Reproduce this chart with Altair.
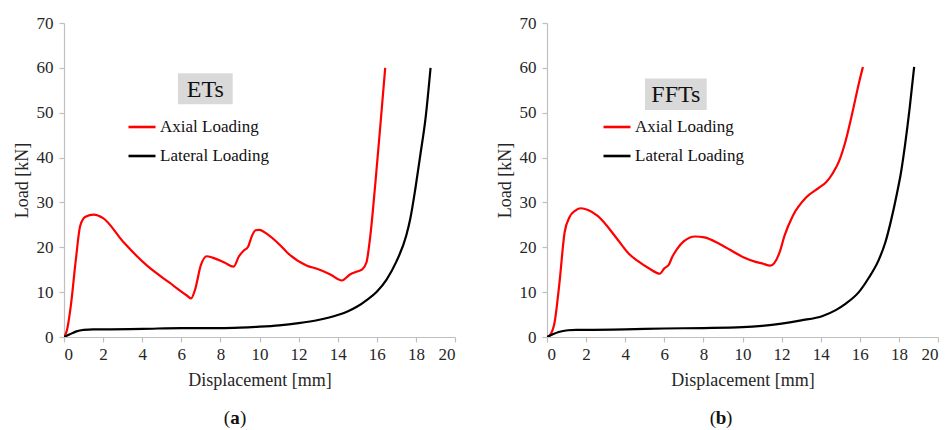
import altair as alt
import pandas as pd

# ---------------- data ----------------
SERIES = ["Axial Loading", "Lateral Loading"]
COLORS = ["#ff0000", "#000000"]

ets_axial_x = [0, 0.15, 0.35, 0.6, 0.83, 1.1, 1.52, 2.0, 3.05, 4.25, 5.4, 6.3, 6.5,
               6.7, 7.0, 7.3, 7.6, 8.2, 8.68, 8.95, 9.2, 9.4, 9.62, 9.8, 10.0, 10.38,
               11.07, 11.4, 12.43, 12.94, 13.6, 14.22, 14.65, 15.0, 15.24, 15.47, 15.67,
               15.93, 16.18, 16.43]
ets_axial_y = [0, 1.5, 7, 17, 24.8, 26.8, 27.3, 26.5, 21.1, 15.9, 12.1, 9.2, 8.6,
               10.5, 16.0, 18.0, 17.7, 16.6, 15.7, 18.0, 19.3, 20.0, 22.6, 23.8, 23.9, 23.0,
               20.4, 18.9, 15.9, 15.2, 14.0, 12.6, 14.0, 14.6, 15.0, 16.6, 22.6,
               34.5, 47.1, 60.0]

ets_lateral_x = [0, 0.3, 0.6, 1.0, 1.5, 2, 4, 6, 8, 9, 10, 11, 12, 13, 14, 14.5, 15,
                 15.5, 16, 16.5, 17, 17.5, 17.71, 17.97, 18.22, 18.5, 18.75]
ets_lateral_y = [0, 0.6, 1.2, 1.6, 1.7, 1.7, 1.8, 2.0, 2.0, 2.1, 2.3, 2.6, 3.1, 3.8, 4.9,
                 5.7, 6.8, 8.3, 10.1, 12.8, 16.8, 22.5, 26.3, 33.0, 40.4, 49.0, 60.0]

fft_axial_x = [0, 0.13, 0.39, 0.64, 0.9, 1.15, 1.45, 1.74, 2.1, 2.59, 3.6, 4.2, 4.62,
               5.25, 5.77, 6.0, 6.23, 6.4, 6.65, 6.99, 7.58, 8.05, 8.85, 10.04, 10.71,
               11.0, 11.42, 11.9, 12.15, 12.57, 13.25, 13.92, 14.3, 14.6, 14.94, 15.28,
               15.62, 15.96, 16.16]
fft_axial_y = [0, 0.3, 3.3, 12.2, 23.3, 26.7, 28.2, 28.7, 28.3, 27.0, 21.8, 18.5, 17.0,
               15.2, 14.1, 15.3, 16.1, 17.8, 19.6, 21.3, 22.4, 22.2, 20.7, 17.8, 16.7,
               16.4, 15.9, 18.9, 22.6, 27.0, 31.1, 33.3, 34.6, 36.4, 39.2, 43.8,
               50.0, 56.7, 60.2]

fft_lateral_x = [0, 0.3, 0.6, 1.07, 1.5, 2, 4, 6, 8, 10, 11, 12, 13, 14.1, 14.77, 15.3,
                 15.95, 16.46, 16.97, 17.3, 17.6, 17.9, 18.1, 18.32, 18.55, 18.78]
fft_lateral_y = [0, 0.6, 1.1, 1.5, 1.6, 1.6, 1.7, 1.9, 2.0, 2.2, 2.5, 3.0, 3.7, 4.7, 6.0,
                 7.5, 10.0, 13.2, 17.2, 21.0, 26.0, 32.0, 36.5, 43.0, 51.0, 60.2]

panel_titles = ["ETs", "FFTs"]
captions = ["a", "b"]
# annotation box extents (data units) for the panel labels
box_x = [[5.83, 8.63], [5.01, 8.17]]
box_y = [[51.9, 58.8], [50.6, 57.6]]

X_TICKS = list(range(0, 21, 2))
Y_TICKS = list(range(0, 71, 10))

W, H = 391, 314
FONT = "Liberation Serif"
TXT = "#262626"

XS = alt.Scale(domain=[0, 20], nice=False)
YS = alt.Scale(domain=[0, 70], nice=False)
XAX = alt.Axis(title="Displacement [mm]", values=X_TICKS, format="d", labelOverlap=False)
YAX = alt.Axis(title="Load [kN]", values=Y_TICKS, format="d", labelOverlap=False)


def panel(ax, ay, lx, ly, title, cap, bx, by, legend_x, legend_y, cap_x):
    df = pd.concat([
        pd.DataFrame({"d": ax, "load": ay, "series": SERIES[0], "o": range(len(ax))}),
        pd.DataFrame({"d": lx, "load": ly, "series": SERIES[1], "o": range(len(lx))}),
    ])
    lines = alt.Chart(df).mark_line(interpolate="monotone", strokeWidth=2.2, clip=True).encode(
        x=alt.X("d:Q", scale=XS, axis=XAX),
        y=alt.Y("load:Q", scale=YS, axis=YAX),
        color=alt.Color("series:N",
                        scale=alt.Scale(domain=SERIES, range=COLORS),
                        legend=alt.Legend(title=None, orient="none",
                                          legendX=legend_x, legendY=legend_y,
                                          symbolType="stroke", symbolSize=729,
                                          symbolStrokeWidth=2.6, labelFontSize=17,
                                          labelFont=FONT, labelColor="#111",
                                          labelOffset=3, rowPadding=6,
                                          padding=0)),
        order="o:Q",
    )
    bdf = pd.DataFrame({"x1": [bx[0]], "x2": [bx[1]], "y1": [by[0]], "y2": [by[1]],
                        "xc": [(bx[0] + bx[1]) / 2], "yc": [(by[0] + by[1]) / 2],
                        "t": [title]})
    box = alt.Chart(bdf).mark_rect(color="#d9d9d9").encode(
        x=alt.X("x1:Q", scale=XS, axis=XAX), x2="x2:Q",
        y=alt.Y("y1:Q", scale=YS, axis=YAX), y2="y2:Q")
    txt = alt.Chart(bdf).mark_text(fontSize=24, font=FONT, color="#111",
                                   baseline="middle", dy=1).encode(
        x=alt.X("xc:Q", scale=XS, axis=XAX), y=alt.Y("yc:Q", scale=YS, axis=YAX),
        text="t:N")
    cy = 395
    cap_df = pd.DataFrame({"c": [cap]})
    c1 = alt.Chart(cap_df).mark_text(text="(", fontSize=19, font=FONT, align="right",
                                      baseline="middle", color="#111").encode(
        x=alt.value(cap_x - 5), y=alt.value(cy))
    c2 = alt.Chart(cap_df).mark_text(fontSize=19, font=FONT, fontWeight="bold",
                                      align="center", baseline="middle", color="#111").encode(
        x=alt.value(cap_x), y=alt.value(cy), text="c:N")
    c3 = alt.Chart(cap_df).mark_text(text=")", fontSize=19, font=FONT, align="left",
                                      baseline="middle", color="#111").encode(
        x=alt.value(cap_x + 5), y=alt.value(cy))
    return alt.layer(lines, box, txt, c1, c2, c3).properties(width=W, height=H)


left = panel(ets_axial_x, ets_axial_y, ets_lateral_x, ets_lateral_y,
             panel_titles[0], captions[0], box_x[0], box_y[0], 63, 89, 171)
right = panel(fft_axial_x, fft_axial_y, fft_lateral_x, fft_lateral_y,
              panel_titles[1], captions[1], box_x[1], box_y[1], 55, 89, 174)

chart = alt.hconcat(left, right, spacing=40).resolve_scale(
    color="independent").resolve_legend(color="independent").properties(
    padding={"left": 5, "top": 6, "right": 0, "bottom": 0}
).configure(font=FONT).configure_view(stroke=None).configure_axis(
    grid=False, domainColor="#bfbfbf", tickColor="#bfbfbf", tickSize=5,
    domainWidth=1.2, tickWidth=1.2,
    labelFont=FONT, labelFontSize=17, labelColor=TXT,
    titleFont=FONT, titleFontSize=18, titleFontWeight="normal", titleColor=TXT,
).configure_axisY(labelPadding=6, titlePadding=5).configure_axisX(
    labelPadding=4, titlePadding=9)

chart.save("out.html", embed_options={"renderer": "svg", "actions": False})
